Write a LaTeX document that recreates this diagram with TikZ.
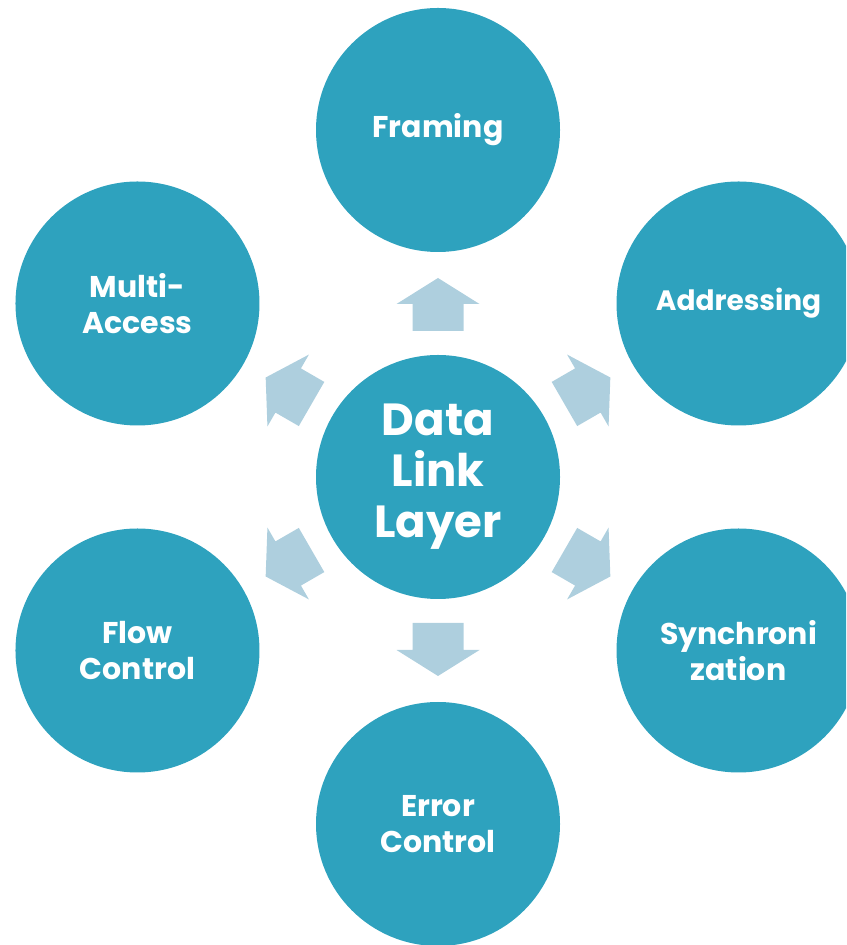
\documentclass[tikz,border=0pt]{standalone}
\usepackage{fontspec}
\usetikzlibrary{calc}
\setmainfont{Poppins}[BoldFont={* Bold}]
\definecolor{hubteal}{RGB}{46,162,190}
\definecolor{arrowblue}{RGB}{174,207,222}
\begin{document}
\begin{tikzpicture}[x=1pt,y=1pt,
  topic/.style={circle,fill=hubteal,minimum size=244pt,inner sep=0pt,
    text=white,align=center,font=\bfseries\fontsize{30}{36}\selectfont},
  hub/.style={topic,font=\bfseries\fontsize{45}{51}\selectfont},
  flowarrow/.style={fill=arrowblue,draw=none}]
  \useasboundingbox (0,0) rectangle (846,945);
  \begin{scope}
    \clip (0,0) rectangle (846,945);
    % central circle
    \node[hub] (dll) at (438,468) {Data\\Link\\Layer};
    % surrounding circles, 347pt from the centre
    \node[topic] (framing) at ($(dll.center)+(90:347)$) {Framing};
    \node[topic,font=\bfseries\fontsize{28}{34}\selectfont] (addr)
      at ($(dll.center)+(30:347)$) {Addressing};
    \node[topic] (sync)    at ($(dll.center)+(-30:347)$) {Synchroni\\zation};
    \node[topic] (err)     at ($(dll.center)+(-90:347)$) {Error\\Control};
    \node[topic] (flow)    at ($(dll.center)+(-150:347)$) {Flow\\Control};
    \node[topic] (multi)   at ($(dll.center)+(150:347)$) {Multi-\\Access};
  \end{scope}
  % block arrows pointing out from the hub
  \foreach \a in {90,30,-30,-90,-150,150}{
    \begin{scope}[shift={(dll.center)},rotate=\a]
      \fill[flowarrow] (146,-25.5) -- (173,-25.5) -- (173,-41.5) -- (199,0)
        -- (173,41.5) -- (173,25.5) -- (146,25.5) -- cycle;
    \end{scope}
  }
\end{tikzpicture}
\end{document}
